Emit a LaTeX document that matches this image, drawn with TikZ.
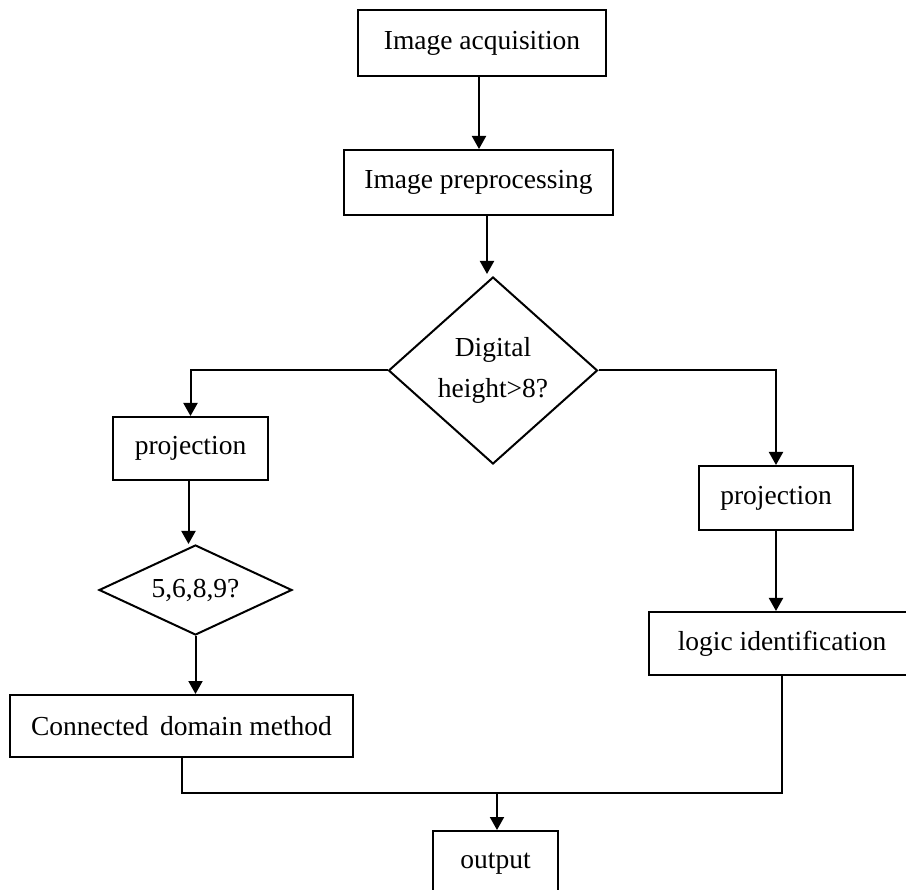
\documentclass[tikz,border=0pt]{standalone}
\usepackage{fontspec}
\setmainfont{Liberation Serif}
\usetikzlibrary{shapes.geometric,arrows.meta}
\tikzset{
  box/.style={draw=black, line width=2pt, rectangle, inner sep=0pt, align=center},
  decision/.style={draw=black, line width=2pt, diamond, inner sep=0pt, align=center},
  conn/.style={draw=black, line width=2pt},
  arr/.style={conn, -{Triangle[width=14pt,length=13pt]}}
}
\begin{document}
\begin{tikzpicture}[x=1pt,y=-1pt, font=\fontsize{27.5}{34}\selectfont]
\useasboundingbox (0,0) rectangle (906,890);
\fill[white] (0,0) rectangle (906,890);
\node[box, minimum width=248pt, minimum height=66pt] (acq) at (482,43) {Image acquisition};
\node[box, minimum width=269pt, minimum height=65pt] (pre) at (478.5,182.5) {Image preprocessing};
\node[decision, aspect=1, minimum width=209pt, minimum height=187pt, font=\fontsize{27.5}{41}\selectfont] (dia) at (493,370.5) {Digital\\height>8?};
\node[box, minimum width=155pt, minimum height=63pt] (lproj) at (190.5,448.5) {projection};
\node[decision, aspect=2, minimum width=193pt, minimum height=90pt] (sdia) at (195.5,590) {5,6,8,9?};
\node[box, minimum width=343pt, minimum height=62pt] (cdm) at (181.5,726) {Connected\, domain method};
\node[box, minimum width=154pt, minimum height=64pt] (rproj) at (776,498) {projection};
\node[box, minimum width=266pt, minimum height=63pt] (logic) at (782,643.5) {logic identification};
\node[box, minimum width=125pt, minimum height=66pt] (out) at (495.5,864) {output};
\coordinate (m) at (497,793);

\draw[arr] ([xshift=-3pt]acq.south) -- ([xshift=-3pt]acq.south |- pre.north);
\draw[arr] ([xshift=8.5pt]pre.south) -- ([xshift=8.5pt,yshift=2pt]pre.south |- dia.north);
\draw[arr] (dia.west) -| (lproj.north);
\draw[arr] (dia.east) -| (rproj.north);
\draw[arr] ([xshift=-2pt]lproj.south) -- ([xshift=-2pt]lproj.south |- sdia.north);
\draw[arr] (sdia.south) -- (sdia.south |- cdm.north);
\draw[arr] (rproj.south) -- (rproj.south |- logic.north);
\draw[conn] (cdm.south) |- (m) -| (logic.south);
\draw[arr] (m) -- (m |- out.north);
\end{tikzpicture}
\end{document}
